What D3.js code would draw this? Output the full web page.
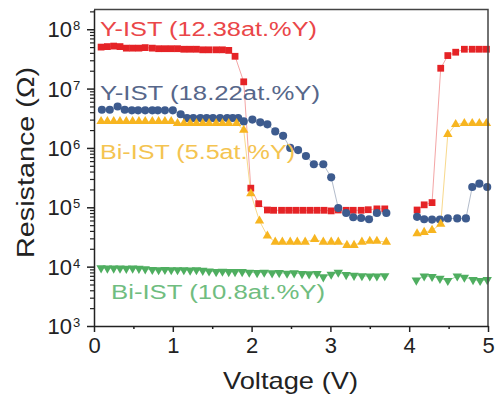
<!DOCTYPE html>
<html>
<head>
<meta charset="utf-8">
<script src="https://cdn.jsdelivr.net/npm/d3@7"></script>
<style>
  body { margin: 0; background: #fff; }
  svg { display: block; font-family: "Liberation Sans", Arial, sans-serif; }
</style>
</head>
<body>
<div id="chart"></div>
<script>
// values (voltage in V, resistance in ohm)
const voltRed = [0.09,0.17,0.25,0.33,0.41,0.49,0.57,0.65,0.74,0.82,0.90,0.98,1.06,1.14,1.22,1.30,1.38,1.46,1.55,1.63,1.71,1.79,1.90,1.99,2.09,
	2.20,2.28,2.38,2.47,2.56,2.65,2.74,2.83,2.92,3.01,3.10,3.20,3.29,3.39,3.48,3.59,3.69,
	4.10,4.19,4.29,4.40,4.49,4.59,4.70,4.80,4.89,4.98];
const resRed = [5.0e7,5.1e7,5.2e7,5.1e7,4.8e7,4.8e7,4.8e7,4.9e7,4.8e7,4.7e7,4.7e7,4.7e7,4.7e7,4.6e7,4.6e7,4.6e7,4.5e7,4.5e7,4.5e7,4.5e7,4.4e7,3.5e7,1.3e7,2.1e5,1.15e5,
	9.0e4,8.9e4,8.9e4,8.9e4,8.9e4,8.9e4,8.9e4,8.9e4,8.9e4,8.7e4,9.0e4,8.9e4,8.9e4,8.9e4,9.1e4,9.4e4,9.4e4,
	9.0e4,1.1e5,1.2e5,2.2e7,3.6e7,4.1e7,4.6e7,4.6e7,4.6e7,4.6e7];

const voltBlue = [0.10,0.20,0.30,0.39,0.48,0.56,0.65,0.74,0.81,0.90,1.00,1.10,1.18,1.26,1.35,1.43,1.51,1.60,1.69,1.76,1.83,1.90,2.01,2.11,2.20,2.30,2.40,2.49,2.59,2.69,2.79,2.91,3.01,3.10,3.20,3.29,3.39,3.49,3.59,3.71,
	4.10,4.19,4.29,4.39,4.49,4.61,4.72,4.80,4.89,4.99];
const resBlue = [4.4e6,4.4e6,5.0e6,4.4e6,4.3e6,4.3e6,4.3e6,4.3e6,4.3e6,4.3e6,4.3e6,3.7e6,3.2e6,3.2e6,3.2e6,3.2e6,3.2e6,3.2e6,3.2e6,3.2e6,3.2e6,2.8e6,3.0e6,2.7e6,2.5e6,1.9e6,1.6e6,1.0e6,9.2e5,7.3e5,5.3e5,5.3e5,3.2e5,9.7e4,8.0e4,6.8e4,6.6e4,6.3e4,8.0e4,8.0e4,
	6.9e4,6.3e4,6.2e4,6.2e4,6.5e4,6.5e4,6.5e4,2.2e5,2.5e5,2.2e5];

const voltYellow = [0.09,0.17,0.25,0.33,0.41,0.49,0.57,0.65,0.74,0.82,0.90,0.98,1.06,1.14,1.22,1.30,1.38,1.46,1.55,1.63,1.71,1.81,1.90,1.99,2.10,2.20,
	2.30,2.39,2.49,2.58,2.68,2.80,2.91,3.01,3.10,3.21,3.30,3.40,3.50,3.59,3.71,
	4.10,4.19,4.29,4.40,4.49,4.59,4.70,4.80,4.89,4.98];
const resYellow = [2.8e6,2.8e6,2.8e6,2.8e6,2.8e6,2.8e6,2.8e6,2.8e6,2.8e6,2.8e6,2.8e6,2.8e6,2.6e6,2.6e6,2.6e6,2.6e6,2.6e6,2.6e6,2.6e6,2.6e6,2.6e6,2.6e6,2.0e6,1.7e5,5.9e4,3.3e4,
	2.6e4,2.6e4,2.6e4,2.6e4,2.6e4,2.9e4,2.6e4,2.6e4,2.6e4,2.3e4,2.3e4,2.6e4,2.7e4,2.7e4,2.6e4,
	3.6e4,3.8e4,4.1e4,5.2e4,1.7e6,2.5e6,2.6e6,2.6e6,2.6e6,2.6e6];

const voltGreen = [0.09,0.17,0.25,0.33,0.41,0.49,0.57,0.65,0.74,0.82,0.90,0.98,1.06,1.14,1.22,1.30,1.38,1.46,1.55,1.63,1.71,1.79,
	1.88,1.97,2.07,2.16,2.26,2.35,2.45,2.54,2.64,2.73,2.83,2.91,3.01,3.10,3.20,3.30,3.40,3.50,3.59,3.69,
	4.09,4.19,4.29,4.39,4.49,4.61,4.70,4.81,4.90,4.99];
const resGreen = [9.5e3,9.4e3,9.4e3,9.4e3,9.3e3,9.4e3,9.3e3,9.1e3,8.9e3,8.8e3,8.9e3,8.8e3,8.8e3,8.8e3,8.7e3,8.8e3,8.6e3,8.4e3,8.2e3,8.3e3,8.2e3,8.2e3,
	8.2e3,8.0e3,7.9e3,8.0e3,7.8e3,7.9e3,7.7e3,7.8e3,7.6e3,7.5e3,7.6e3,6.7e3,7.4e3,8.0e3,7.3e3,7.1e3,7.0e3,6.9e3,6.9e3,7.0e3,
	5.9e3,6.9e3,6.8e3,6.3e3,5.8e3,6.9e3,6.6e3,6.0e3,5.8e3,6.0e3];

const seriesNames = ['Y-IST (12.38at.%Y)', 'Y-IST (18.22at.%Y)', 'Bi-IST (5.5at.%Y)', 'Bi-IST (10.8at.%Y)'];
const xTicks = [0, 1, 2, 3, 4, 5];
const xMinorTicks = [0.5, 1.5, 2.5, 3.5, 4.5];
const yExponents = [3, 4, 5, 6, 7, 8];

const width = 498, height = 398;
const plotLeft = 94, plotRight = 488, plotTop = 9.5, plotBottom = 326;
const gapV = 3.9; // no measurement between the two sweeps

const x = d3.scaleLinear().domain([0, 5]).range([plotLeft, plotRight]);
const y = d3.scaleLog().domain([1e3, 2.15e8]).range([plotBottom, plotTop]);

const svg = d3.select('#chart').append('svg')
	.attr('width', width)
	.attr('height', height);

const series = [
	{name: seriesNames[0], v: voltRed, r: resRed, color: '#e52326', line: '#f4a6a6', text: '#ea4648', shape: d3.symbolSquare, size: 46, rot: 0,
		label: {x: 100, y: 36, len: 217}},
	{name: seriesNames[1], v: voltBlue, r: resBlue, color: '#3d5b8e', line: '#b3bccb', text: '#57678a', shape: d3.symbolCircle, size: 52, rot: 0,
		label: {x: 100, y: 100, len: 220}},
	{name: seriesNames[2], v: voltYellow, r: resYellow, color: '#f7b520', line: '#f8d98c', text: '#f4c451', shape: d3.symbolTriangle, size: 38, rot: 0,
		label: {x: 100, y: 159, len: 195}},
	{name: seriesNames[3], v: voltGreen, r: resGreen, color: '#4fae60', line: '#a6d6ae', text: '#70bd80', shape: d3.symbolTriangle, size: 38, rot: 180,
		label: {x: 111, y: 299, len: 214}}
];

// connecting lines, split at the gap
const line = d3.line().x(d => x(d[0])).y(d => y(d[1]));
series.forEach(s => {
	const pts = s.v.map((v, i) => [v, s.r[i]]);
	const segs = [pts.filter(d => d[0] < gapV), pts.filter(d => d[0] > gapV)];
	svg.append('g').selectAll('path')
		.data(segs)
		.enter()
		.append('path')
		.attr('d', line)
		.attr('fill', 'none')
		.attr('stroke', s.line)
		.attr('stroke-width', 1);
});

// markers
series.forEach(s => {
	svg.append('g').selectAll('path')
		.data(s.v.map((v, i) => [v, s.r[i]]))
		.enter()
		.append('path')
		.attr('d', d3.symbol().type(s.shape).size(s.size))
		.attr('transform', d => `translate(${x(d[0])},${y(d[1])}) rotate(${s.rot})`)
		.attr('fill', s.color);
});

// frame top and right
svg.append('path')
	.attr('d', `M${plotLeft},${plotTop}H${plotRight}V${plotBottom}`)
	.attr('fill', 'none')
	.attr('stroke', '#444')
	.attr('stroke-width', 1.5);

// x axis
const xAxis = svg.append('g')
	.attr('transform', `translate(0,${plotBottom})`)
	.call(d3.axisBottom(x).tickValues(xTicks).tickSize(6).tickSizeOuter(0).tickFormat(d3.format('d')));
xAxis.select('.domain').attr('stroke', '#222').attr('stroke-width', 1.5);
xAxis.selectAll('.tick line').attr('stroke', '#222').attr('stroke-width', 1.5);
xAxis.selectAll('.tick text')
	.attr('font-size', 22)
	.attr('fill', '#222')
	.attr('font-family', '"Liberation Sans", Arial, sans-serif')
	.attr('dy', '0.73em')
	.attr('y', 11);
svg.append('g')
	.attr('transform', `translate(0,${plotBottom})`)
	.call(d3.axisBottom(x).tickValues(xMinorTicks).tickSize(3).tickFormat(''))
	.call(g => g.select('.domain').remove())
	.selectAll('.tick line').attr('stroke', '#222').attr('stroke-width', 1.5);

// y axis, log minor ticks
const yMinor = [];
for (let e = 3; e <= 8; e++) {
	for (let m = 2; m <= 9; m++) {
		if (m * Math.pow(10, e) <= y.domain()[1]) yMinor.push(m * Math.pow(10, e));
	}
}
svg.append('g')
	.attr('transform', `translate(${plotLeft},0)`)
	.call(d3.axisLeft(y).tickValues(yMinor).tickSize(4).tickFormat(''))
	.call(g => g.select('.domain').remove())
	.selectAll('.tick line').attr('stroke', '#222').attr('stroke-width', 1.2);
const yAxis = svg.append('g')
	.attr('transform', `translate(${plotLeft},0)`)
	.call(d3.axisLeft(y).tickValues(yExponents.map(e => Math.pow(10, e))).tickSize(7).tickSizeOuter(0).tickFormat(''));
yAxis.select('.domain').attr('stroke', '#222').attr('stroke-width', 1.5);
yAxis.selectAll('.tick line').attr('stroke', '#222').attr('stroke-width', 1.5);

svg.append('g').selectAll('text')
	.data(yExponents)
	.enter()
	.append('text')
	.attr('x', 72)
	.attr('y', d => y(Math.pow(10, d)) + 8)
	.attr('text-anchor', 'end')
	.attr('font-size', 22)
	.attr('fill', '#222')
	.text('10');
svg.append('g').selectAll('text')
	.data(yExponents)
	.enter()
	.append('text')
	.attr('x', 73)
	.attr('y', d => y(Math.pow(10, d)) + 1)
	.attr('font-size', 13)
	.attr('fill', '#222')
	.text(d => d);

// axis titles
svg.append('text')
	.attr('x', 223)
	.attr('y', 389)
	.attr('font-size', 24)
	.attr('fill', '#222')
	.attr('textLength', 135)
	.attr('lengthAdjust', 'spacingAndGlyphs')
	.text('Voltage (V)');
svg.append('text')
	.attr('transform', 'translate(34,258) rotate(-90)')
	.attr('font-size', 23)
	.attr('fill', '#222')
	.attr('textLength', 191)
	.attr('lengthAdjust', 'spacingAndGlyphs')
	.text('Resistance (\u03A9)');

// series labels inside the plot
svg.append('g').selectAll('text')
	.data(series)
	.enter()
	.append('text')
	.attr('x', d => d.label.x)
	.attr('y', d => d.label.y)
	.attr('font-size', 20)
	.attr('fill', d => d.text)
	.attr('textLength', d => d.label.len)
	.attr('lengthAdjust', 'spacingAndGlyphs')
	.text(d => d.name);
</script>
</body>
</html>
